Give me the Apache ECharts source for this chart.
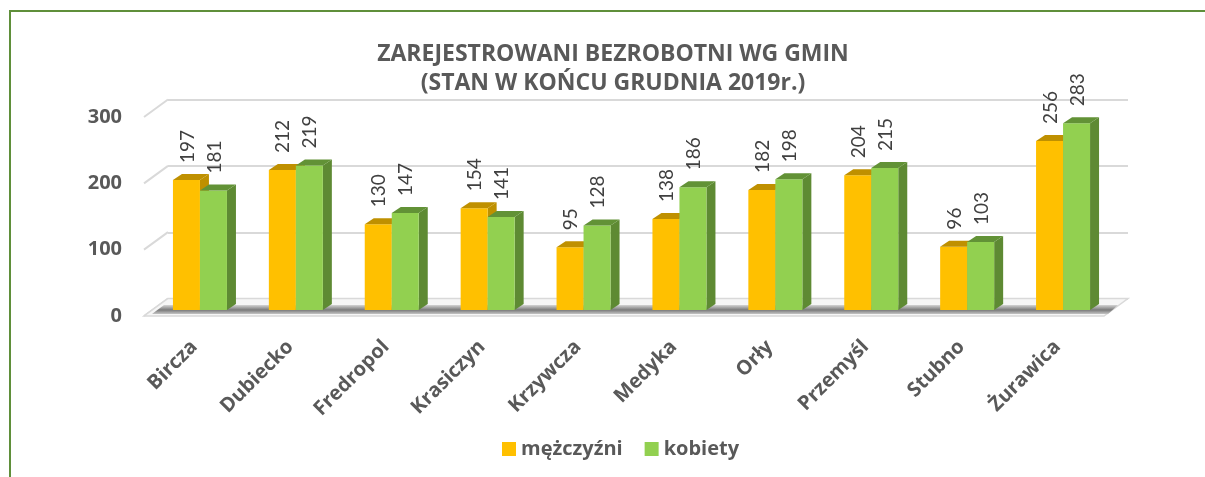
<!DOCTYPE html>
<html>
<head>
<meta charset="utf-8">
<script src="https://cdn.jsdelivr.net/npm/echarts@6/dist/echarts.min.js"></script>
<style>
  html, body { margin: 0; padding: 0; background: #fff; }
  #chart { width: 1205px; height: 477px; }
</style>
</head>
<body>
<div id="chart"></div>
<script>
// dane
const gminy = ['Bircza', 'Dubiecko', 'Fredropol', 'Krasiczyn', 'Krzywcza', 'Medyka', 'Orły', 'Przemyśl', 'Stubno', 'Żurawica'];
const mezczyzni = [197, 212, 130, 154, 95, 138, 182, 204, 96, 256];
const kobiety = [181, 219, 147, 141, 128, 186, 198, 215, 103, 283];
const yTicks = [0, 100, 200, 300];

const FONT_B = '"Open Sans"';
const FONT = 'Lato';
const TXT = '#595959';
const BAR_W = 27;
const DX = 9, DY = 6;          // glebokosc slupka
const WALL_DX = 24, WALL_DY = 17.5; // przesuniecie tylnej sciany

const chart = echarts.init(document.getElementById('chart'));

const barRenderer = (side, front, topC, sideC) => (params, api) => {
  const base = api.coord([api.value(0), 0]);
  const peak = api.coord([api.value(0), api.value(1)]);
  const x0 = side === 0 ? base[0] - BAR_W : base[0];
  const x1 = x0 + BAR_W;
  const yt = peak[1], yb = base[1];
  return {
    type: 'group',
    children: [
      { type: 'polygon', shape: { points: [[x1, yt], [x1 + DX, yt - DY], [x1 + DX, yb - DY], [x1, yb]] }, style: { fill: sideC } },
      { type: 'rect', shape: { x: x0, y: yt, width: BAR_W, height: yb - yt }, style: { fill: front } },
      { type: 'polygon', shape: { points: [[x0, yt], [x0 + DX, yt - DY], [x1 + DX, yt - DY], [x1, yt]] }, style: { fill: topC } },
      {
        type: 'text', x: (x0 + x1) / 2 + 1, y: yt - 17, rotation: Math.PI / 2,
        style: { text: String(api.value(1)), fill: '#404040', font: '19px ' + FONT, align: 'left', verticalAlign: 'middle' }
      }
    ]
  };
};

const option = {
  animation: false,
  graphic: [{
    type: 'rect', shape: { x: 10, y: 11, width: 1400, height: 600 },
    style: { fill: 'none', stroke: '#5f8f3a', lineWidth: 2 }, silent: true
  }],
  title: {
    text: 'ZAREJESTROWANI BEZROBOTNI WG GMIN\n(STAN W KOŃCU GRUDNIA 2019r.)',
    left: 608, top: 35, textAlign: 'center',
    textStyle: { fontFamily: FONT_B, fontSize: 23, fontWeight: 'bold', color: TXT, lineHeight: 29 }
  },
  legend: {
    left: 497, top: 434,
    icon: 'rect', itemWidth: 14, itemHeight: 14, itemGap: 22,
    textStyle: { fontFamily: FONT_B, fontSize: 20, fontWeight: 'bold', color: TXT },
    data: ['mężczyźni', 'kobiety']
  },
  grid: [
    { left: 168, right: 77, top: 99.5, bottom: 178 },  // tylna sciana
    { left: 144, right: 101, top: 117, bottom: 161 },  // plaszczyzna etykiet
    { left: 152, right: 94, top: 112, bottom: 167 }    // slupki
  ],
  xAxis: [
    { gridIndex: 0, type: 'value', min: 0, max: 1, show: false },
    { gridIndex: 1, type: 'value', min: 0, max: 1, show: false },
    {
      gridIndex: 2, type: 'category', data: gminy,
      axisLine: { show: false }, axisTick: { show: false },
      axisLabel: {
        rotate: 45, margin: 28, interval: 0, padding: [0, 8, 0, 0],
        fontFamily: FONT_B, fontSize: 20, fontWeight: 'bold', color: TXT
      }
    }
  ],
  yAxis: [
    {
      gridIndex: 0, type: 'value', min: 0, max: 300, interval: 100,
      axisLabel: { show: false }, axisLine: { show: false }, axisTick: { show: false },
      splitLine: { lineStyle: { color: '#d9d9d9', width: 2 } }
    },
    {
      gridIndex: 1, type: 'value', min: 0, max: 300, interval: 100,
      axisLine: { show: false }, axisTick: { show: false }, splitLine: { show: false },
      axisLabel: { margin: 22, fontFamily: FONT_B, fontSize: 20, fontWeight: 'bold', color: TXT }
    },
    { gridIndex: 2, type: 'value', min: 0, max: 300, interval: 100, show: false }
  ],
  series: [
    {
      type: 'custom', xAxisIndex: 1, yAxisIndex: 1, z: 1, silent: true,
      data: yTicks.map(v => [0, v]),
      renderItem: (params, api) => {
        const p = api.coord([0, api.value(1)]);
        return { type: 'line', shape: { x1: p[0], y1: p[1], x2: p[0] + WALL_DX, y2: p[1] - WALL_DY }, style: { stroke: '#d9d9d9', lineWidth: 2 } };
      }
    },
    {
      type: 'custom', xAxisIndex: 1, yAxisIndex: 1, z: 1, silent: true,
      data: [[0, 0]],
      renderItem: (params, api) => {
        const l = api.coord([0, 0]);
        const r = api.coord([1, 0]);
        return {
          type: 'group',
          children: [
            { type: 'polygon', shape: { points: [[l[0], l[1]], [r[0], r[1]], [r[0] + WALL_DX, r[1] - WALL_DY], [l[0] + WALL_DX, l[1] - WALL_DY]] },
              style: { fill: '#f6f6f6', stroke: '#d9d9d9', lineWidth: 1.5 } },
            { type: 'polygon', shape: { points: [[l[0] + 8, l[1] - 2], [r[0] + 4, r[1] - 2], [r[0] + 14, r[1] - 11], [l[0] + 20, l[1] - 11]] },
              style: { fill: new echarts.graphic.LinearGradient(0, 0, 0, 1, [
                { offset: 0, color: '#d4d4d4' }, { offset: 0.55, color: '#7a7a7a' }, { offset: 1, color: '#c4c4c4' }
              ]) } }
          ]
        };
      }
    },
    {
      name: 'mężczyźni', type: 'custom', xAxisIndex: 2, yAxisIndex: 2, z: 3,
      itemStyle: { color: '#FFC000' },
      data: mezczyzni.map((v, i) => [i, v]),
      renderItem: barRenderer(0, '#FFC000', '#BF9000', '#BF9000')
    },
    {
      name: 'kobiety', type: 'custom', xAxisIndex: 2, yAxisIndex: 2, z: 4,
      itemStyle: { color: '#92D050' },
      data: kobiety.map((v, i) => [i, v]),
      renderItem: barRenderer(1, '#92D050', '#629236', '#5E8A33')
    }
  ]
};

chart.setOption(option);
</script>
</body>
</html>
